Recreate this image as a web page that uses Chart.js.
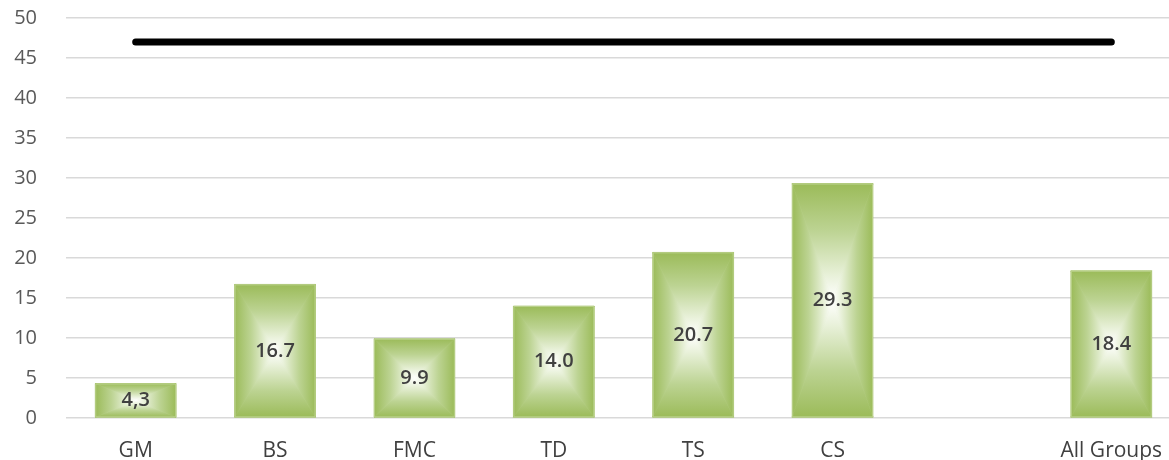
<!DOCTYPE html>
<html>
<head>
<meta charset="utf-8">
<script src="https://cdn.jsdelivr.net/npm/chart.js@4.4.1/dist/chart.umd.min.js"></script>
<style>
  html, body { margin: 0; padding: 0; background: #fff; overflow: hidden; }
  #wrap { width: 1190px; height: 460px; }
</style>
</head>
<body>
<div id="wrap"><canvas id="chart" width="1190" height="460"></canvas></div>
<script>
const categories = ['GM', 'BS', 'FMC', 'TD', 'TS', 'CS', '', 'All Groups'];
const values = [4.3, 16.7, 9.9, 14.0, 20.7, 29.3, null, 18.4];
const valueLabels = ['4,3', '16.7', '9.9', '14.0', '20.7', '29.3', '', '18.4'];
const targetLine = [47, 47, 47, 47, 47, 47, 47, 47];
const yTicks = [0, 5, 10, 15, 20, 25, 30, 35, 40, 45, 50];

const GREEN = '#9bbb59';

// rectangular "from center" fill, drawn as four triangles
function edgeGrad(ctx, x0, y0, x1, y1) {
  const g = ctx.createLinearGradient(x0, y0, x1, y1);
  g.addColorStop(0, GREEN);
  g.addColorStop(0.4, '#bcd392');
  g.addColorStop(0.8, '#eaf2dc');
  g.addColorStop(1, '#ffffff');
  return g;
}

const barFill = {
  id: 'barFill',
  afterDatasetDraw(chart, args) {
    if (args.index !== 0) return;
    const ctx = chart.ctx;
    const meta = chart.getDatasetMeta(0);
    meta.data.forEach((bar, i) => {
      if (values[i] == null) return;
      const p = bar.getProps(['x', 'y', 'base', 'width'], true);
      const L = p.x - p.width / 2, R = p.x + p.width / 2;
      const T = Math.min(p.y, p.base), B = Math.max(p.y, p.base);
      const cx = p.x, cy = (T + B) / 2;
      ctx.save();
      ctx.fillStyle = '#cfe0ad';
      ctx.fillRect(L, T, R - L, B - T);
      const tris = [
        [[L, T], [R, T], edgeGrad(ctx, cx, T, cx, cy)],
        [[L, B], [R, B], edgeGrad(ctx, cx, B, cx, cy)],
        [[L, T], [L, B], edgeGrad(ctx, L, cy, cx, cy)],
        [[R, T], [R, B], edgeGrad(ctx, R, cy, cx, cy)]
      ];
      tris.forEach(([a, b, g]) => {
        ctx.beginPath();
        ctx.moveTo(a[0], a[1]);
        ctx.lineTo(b[0], b[1]);
        ctx.lineTo(cx, cy);
        ctx.closePath();
        ctx.fillStyle = g;
        ctx.strokeStyle = g;
        ctx.lineWidth = 0.6;
        ctx.fill();
        ctx.stroke();
      });
      ctx.strokeStyle = '#b9d08a';
      ctx.lineWidth = 1;
      ctx.strokeRect(L + 0.5, T + 0.5, R - L - 1, B - T - 1);
      ctx.fillStyle = '#404040';
      ctx.font = '600 20px "Open Sans"';
      ctx.textAlign = 'center';
      ctx.textBaseline = 'middle';
      ctx.fillText(valueLabels[i], cx, cy);
      ctx.restore();
    });
  }
};

new Chart(document.getElementById('chart'), {
  data: {
    labels: categories,
    datasets: [
      {
        type: 'bar',
        data: values,
        backgroundColor: 'rgba(0,0,0,0)',
        barPercentage: 0.58,
        categoryPercentage: 1,
        order: 2
      },
      {
        type: 'line',
        data: targetLine,
        borderColor: '#000',
        borderWidth: 7,
        borderCapStyle: 'round',
        pointRadius: 0,
        fill: false,
        order: 1
      }
    ]
  },
  options: {
    responsive: false,
    animation: false,
    layout: { padding: { top: 18, right: 9, left: 0, bottom: 0 } },
    plugins: { legend: { display: false }, tooltip: { enabled: false } },
    scales: {
      x: {
        grid: { display: false },
        border: { display: false },
        ticks: { color: '#404040', font: { family: 'Open Sans', size: 21 }, padding: 12, maxRotation: 0, autoSkip: false },
        afterFit(s) { s.height = 42; }
      },
      y: {
        min: 0,
        max: 50,
        afterBuildTicks(s) { s.ticks = yTicks.map(v => ({ value: v })); },
        grid: { color: '#d9d9d9', lineWidth: 1.5, drawTicks: false },
        border: { display: false },
        ticks: { color: '#595959', font: { family: 'Open Sans', size: 20 }, padding: 29 },
        afterFit(s) { s.width = 66; s.paddingTop = 10; s.paddingBottom = 0; }
      }
    }
  },
  plugins: [barFill]
});
</script>
</body>
</html>
